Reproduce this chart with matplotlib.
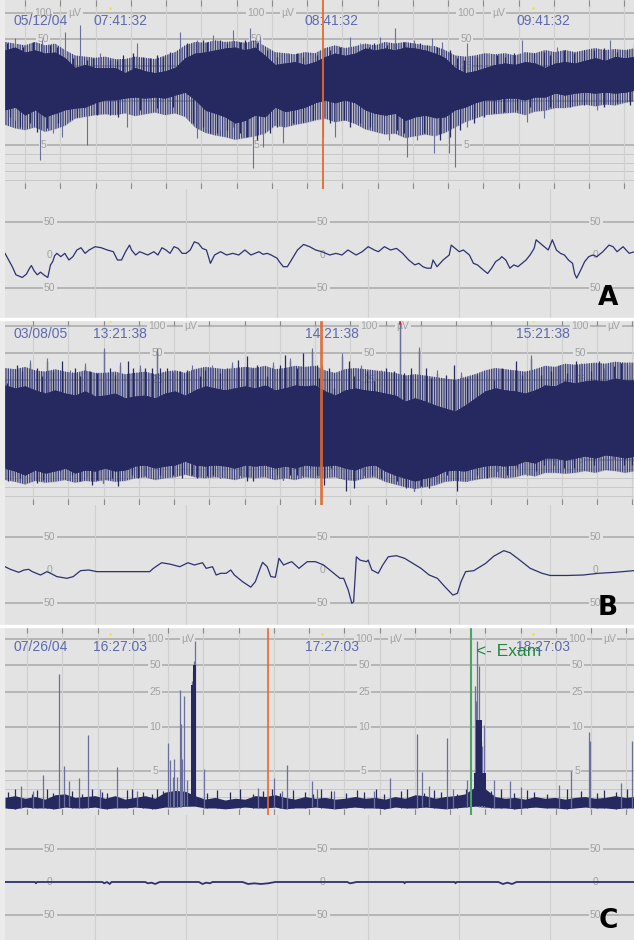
"""
Three amplitude-integrated EEG panels (A, B, C), each with the compressed
aEEG trend on top and a short raw EEG trace below.
"""
import matplotlib
matplotlib.use("Agg")
import matplotlib.pyplot as plt
import numpy as np

plt.rcParams['font.family'] = ['Liberation Sans', 'DejaVu Sans']
plt.rcParams['hatch.linewidth'] = 0.9

# ---------------- data (aEEG time in minutes from left edge, values in uV) ----
env_t = np.linspace(0, 178.7, 64)  # envelope sampling times

a_top = [38, 41, 36, 38, 35, 36, 31, 24, 26, 24, 24, 24, 21, 24, 22, 21, 22, 24, 31, 35, 36, 38, 40, 41, 38, 41,
         33, 26, 27, 28, 26, 28, 32, 35, 33, 35, 40, 38, 40, 38, 41, 40, 38, 35, 31, 24, 21, 22, 24, 26, 27, 26,
         28, 27, 24, 27, 28, 27, 29, 31, 29, 32, 31, 32]
a_bot = [9.0, 9.3, 8.4, 9.0, 8.2, 8.6, 9.0, 9.2, 9.3, 9.8, 10.3, 10.3, 10.8, 11.1, 10.8, 11.1, 10.8, 11.7, 12.6,
         10.3, 9.0, 8.6, 8.2, 7.5, 7.8, 8.4, 8.2, 9.3, 8.8, 9.0, 9.3, 9.8, 10.3, 9.8, 10.3, 9.8, 9.0, 8.6, 8.4,
         8.6, 7.8, 8.2, 8.4, 8.1, 8.2, 9.0, 9.3, 9.8, 10.3, 10.3, 10.8, 10.8, 10.3, 11.1, 11.1, 12.3, 11.7, 12.3,
         12.6, 12.3, 12.6, 12.3, 12.6, 13.3]
# typical spike-tip level around the dense core (ragged fringe)
a_ftop = [47, 45, 43, 47, 43, 45, 38, 33, 32, 31, 32, 30, 30, 32, 31, 30, 33, 36, 43, 47, 46, 49, 47, 48, 46, 49,
          42, 36, 35, 34, 36, 35, 40, 43, 40, 42, 45, 43, 47, 45, 47, 45, 43, 42, 38, 33, 32, 33, 35, 34, 35, 33,
          36, 35, 38, 36, 38, 36, 38, 40, 38, 39, 38, 40]
a_fbot = [7.3, 6.9, 6.7, 7.0, 6.5, 6.8, 7.2, 8.0, 8.2, 8.4, 8.5, 8.4, 8.6, 8.3, 8.5, 8.7, 8.4, 8.6, 8.2, 7.0, 6.4,
          6.1, 5.9, 5.6, 5.8, 6.0, 6.3, 7.2, 7.0, 7.3, 7.5, 7.8, 8.0, 7.6, 7.8, 7.4, 6.8, 6.5, 6.2, 6.3, 5.8, 6.0,
          6.2, 6.0, 6.4, 7.0, 7.6, 8.0, 8.4, 8.5, 8.6, 8.7, 8.4, 8.8, 8.9, 9.2, 9.2, 9.4, 9.6, 9.4, 9.6, 9.5, 9.8,
          10.0]
# tall (light) spikes
a_up_t = [2.8, 10.5, 17.0, 21.3, 27.0, 37.4, 49.6, 54.5, 59.0, 64.7, 69.5, 72.3, 80.3, 86.5, 97.9, 100.7, 106.4,
          110.6, 116.0, 121.1, 124.0, 131.1, 137.3, 146.7, 156.6, 171.6]
a_up_v = [52, 49, 61, 73, 35, 46, 61, 49, 56, 64, 68, 53, 35, 33, 53, 46, 53, 68, 49, 52, 47, 46, 35, 49, 41, 49]
# short spikes giving the band its ragged edge
a_up2_t = [0.6, 5.1, 7.9, 12.8, 14.8, 19.3, 23.3, 25.0, 29.8, 31.8, 33.5, 36.3, 39.1, 41.1, 43.1, 44.8, 46.8,
           51.6, 56.2, 57.3, 61.0, 63.0, 66.7, 68.1, 71.5, 74.3, 77.2, 82.8, 84.5, 88.5, 92.2, 95.0, 103.3, 104.7,
           108.4, 113.2, 114.9, 117.7, 119.7, 122.6, 126.2, 128.2, 130.2, 133.9, 139.6, 141.8, 144.4, 150.1,
           152.9, 154.6, 158.6, 161.4, 164.3, 167.1, 169.9, 173.6, 176.5, 178.5]
a_up2_v = [45.6, 41, 46.8, 43.3, 41, 30.8, 29.2, 30.8, 29.2, 29.2, 33.3, 35, 31.6, 30.8, 33.3, 31.6, 36, 45.6,
           49.4, 46.8, 49.4, 45.6, 46.8, 49.4, 45.6, 38, 31.6, 35, 31.6, 33.3, 38, 41, 41, 45.6, 43.3, 46.8, 45.6,
           45.6, 43.3, 41, 38, 30.8, 29.2, 31.6, 33.3, 31.6, 35, 35, 36, 33.3, 38, 35, 38, 38, 40, 36, 38, 45.6]
a_dn_t = [2.8, 9.9, 13.6, 16.2, 23.3, 34.6, 54.5, 61.0, 64.7, 70.4, 73.2, 78.9, 90.2, 93.6, 106.1, 108.9, 114.0,
          116.9, 121.7, 126.0, 127.7, 131.1, 148.1, 152.9, 167.9]
a_dn_v = [7.8, 3.3, 6.4, 5.9, 5.0, 7.0, 5.8, 6.7, 7.0, 2.4, 4.8, 5.2, 5.9, 5.9, 6.5, 5.6, 3.6, 5.6, 4.1, 4.1, 2.5,
          7.0, 7.6, 8.1, 9.0]
a_dn2_t = [1.4, 4.3, 7.1, 9.1, 11.9, 15.0, 18.4, 20.4, 26.1, 29.8, 32.1, 38.3, 43.1, 47.7, 53.3, 56.2, 58.2, 60.1,
           63.0, 66.7, 68.7, 71.5, 75.2, 77.2, 81.7, 84.5, 87.4, 92.2, 96.2, 97.9, 100.7, 103.6, 111.2, 113.2,
           118.9, 123.4, 126.2, 129.1, 133.1, 135.9, 138.7, 141.6, 145.3, 148.9, 154.6, 160.3, 164.3, 169.9,
           173.6, 177.3]
a_dn2_v = [8.2, 7.0, 7.5, 6.5, 6.9, 7.5, 7.8, 8.2, 8.4, 8.4, 8.2, 9.0, 9.2, 9.3, 7.5, 7.0, 6.4, 6.4, 6.7, 6.4, 5.9,
           5.6, 6.4, 7.0, 7.5, 7.6, 7.8, 7.5, 7.8, 7.0, 7.5, 7.0, 6.7, 6.4, 6.4, 5.6, 5.9, 6.7, 7.5, 8.2, 8.6, 8.7,
           9.0, 9.3, 9.3, 9.3, 9.5, 9.3, 9.8, 9.5]

b_top = [21.9, 20.3, 21.4, 19.3, 17.8, 19.3, 17.8, 16.9, 18.8, 16.5, 16.9, 17.8, 15.7, 16.5, 16.9, 15.7, 17.8, 18.8,
         16.9, 19.3, 21.4, 20.3, 19.3, 20.3, 21.4, 20.3, 21.9, 19.3, 20.3, 21.9, 21.4, 21.9, 18.8, 16.9, 19.3, 20.3,
         19.3, 18.8, 17.8, 16.9, 14.5, 15.7, 14.5, 13.1, 12.1, 11.2, 13.1, 15.7, 18.8, 20.3, 19.3, 18.8, 17.8, 19.3,
         21.9, 21.4, 24.3, 23.1, 24.3, 24.9, 24.3, 26.2, 24.9, 24.9]
b_bot = [4.13, 3.80, 3.35, 3.91, 3.58, 3.80, 4.13, 3.58, 3.91, 3.80, 4.13, 3.80, 3.91, 4.36, 4.47, 4.13, 4.36, 4.47,
         4.92, 4.47, 4.36, 4.47, 4.36, 4.13, 4.47, 4.36, 4.47, 4.13, 4.36, 4.13, 4.47, 4.36, 4.36, 4.47, 4.13, 3.91,
         4.36, 4.47, 3.80, 3.35, 3.02, 2.68, 3.02, 3.24, 3.80, 3.91, 3.80, 4.13, 4.36, 4.47, 4.36, 4.47, 4.92, 4.69,
         5.25, 5.25, 5.03, 5.25, 5.47, 5.25, 5.59, 5.47, 5.25, 5.47]
b_ftop = [34, 33, 35, 32, 31, 33, 31, 30, 32, 30, 30, 31, 29, 30, 31, 29, 31, 32, 30, 33, 35, 34, 33, 34, 35, 34, 36,
          33, 34, 36, 35, 36, 32, 30, 33, 34, 33, 32, 31, 30, 28, 29, 28, 27, 26, 25, 27, 29, 32, 34, 33, 32, 31,
          33, 36, 35, 38, 37, 38, 39, 38, 40, 39, 39]
b_fbot = [2.8, 2.6, 2.3, 2.7, 2.5, 2.6, 2.8, 2.5, 2.7, 2.6, 2.8, 2.6, 2.7, 3.0, 3.1, 2.8, 3.0, 3.1, 3.4, 3.1, 3.0,
          3.1, 3.0, 2.8, 3.1, 3.0, 3.1, 2.8, 3.0, 2.8, 3.1, 3.0, 3.0, 3.1, 2.8, 2.7, 3.0, 3.1, 2.6, 2.3, 2.0, 1.8,
          2.0, 2.2, 2.6, 2.7, 2.6, 2.8, 3.0, 3.1, 3.0, 3.1, 3.4, 3.2, 3.6, 3.6, 3.5, 3.6, 3.8, 3.6, 3.9, 3.8, 3.6,
          3.8]
b_up_t = [0.6, 2.0, 3.4, 4.8, 7.1, 9.1, 10.5, 11.9, 13.6, 16.2, 18.4, 19.9, 21.3, 22.7, 24.1, 26.1, 28.1, 29.8,
          31.2, 32.6, 34.9, 36.3, 38.3, 39.7, 41.7, 43.1, 44.0, 46.0, 47.7, 49.6, 51.6, 53.1, 55.3, 56.7, 58.7,
          61.0, 63.0, 64.4, 66.1, 68.7, 70.1, 71.5, 74.3, 76.0, 78.0, 79.4, 80.9, 82.8, 84.5, 87.1, 88.5, 89.1,
          89.9, 91.9, 93.3, 95.6, 97.6, 99.0, 101.0, 102.7, 104.7, 106.7, 108.1, 110.4, 112.1, 113.2, 115.2,
          117.4, 119.4, 120.9, 122.6, 125.1, 127.4, 129.4, 131.1, 133.9, 136.7, 138.7, 141.0, 143.6, 145.0,
          146.7, 149.2, 152.1, 154.9, 157.2, 159.4, 162.0, 163.4, 166.2, 168.5, 169.9, 172.8, 174.8, 177.0]
b_up_v = [23.1, 24.1, 37, 31.2, 38.6, 34, 27.4, 40.3, 31.2, 40.3, 29.9, 34, 27.4, 35.5, 31.2, 29.9, 52, 34, 28.6,
          37, 40.3, 34, 34, 34, 34, 52, 34, 34, 28.6, 31.2, 32.5, 34, 27.4, 32.5, 34, 29.9, 34, 37, 42, 45.9, 31.2,
          37, 27.4, 37, 37, 47.8, 40.3, 34, 50, 52, 37, 26.2, 34, 34, 20.3, 45.9, 40.3, 27.4, 34, 31.2, 24.1, 29.9,
          34, 31.2, 110, 29.9, 34, 54.4, 34, 26.2, 29.9, 28.6, 37, 28.6, 26.2, 28.6, 26.2, 25.1, 34, 29.9, 40.3,
          28.6, 43.9, 28.6, 31.2, 34, 29.9, 40.3, 35.5, 31.2, 40.3, 31.2, 35.5, 38.6, 37]
b_dn_t = [0.9, 2.3, 4.3, 5.7, 7.7, 9.1, 10.8, 12.2, 13.6, 15.6, 17.6, 19.0, 21.3, 23.3, 24.7, 26.1, 27.8, 30.4,
          32.1, 34.6, 36.0, 37.7, 39.7, 42.0, 44.0, 46.0, 47.7, 50.2, 51.6, 53.1, 54.5, 55.3, 57.3, 59.0, 61.0,
          63.0, 64.7, 66.7, 68.7, 70.4, 72.9, 74.6, 77.2, 78.9, 80.9, 82.8, 84.3, 86.5, 88.5, 89.1, 90.5, 92.5,
          94.8, 96.7, 99.0, 101.8, 104.1, 106.7, 108.9, 111.2, 113.8, 116.0, 118.0, 120.3, 122.6, 125.4, 128.2,
          131.1, 133.9, 136.7, 139.6, 142.4, 145.3, 148.1, 150.6, 152.9, 155.8, 158.6, 161.4, 164.3, 167.1,
          169.9, 172.8, 175.6, 177.9]
b_dn_v = [2.64, 3.39, 3.02, 3.39, 2.83, 2.46, 2.83, 5.25, 5.44, 3.76, 2.83, 3.39, 2.64, 3.2, 2.27, 2.83, 2.46,
          3.02, 2.08, 3.02, 3.39, 3.02, 3.39, 4.5, 3.39, 5.25, 3.39, 3.02, 6.0, 3.39, 3.02, 4.5, 3.2, 3.39, 3.02,
          4.32, 4.13, 3.39, 2.64, 2.64, 3.39, 5.06, 3.39, 2.83, 3.39, 3.39, 3.39, 4.13, 3.39, 3.39, 2.27, 4.13,
          3.02, 1.53, 1.9, 3.39, 3.39, 3.02, 3.76, 2.64, 1.9, 1.53, 2.08, 1.9, 2.64, 3.39, 1.53, 2.64, 3.39, 3.02,
          3.76, 3.39, 4.13, 3.39, 3.76, 4.5, 4.5, 4.13, 4.13, 5.25, 4.5, 5.62, 5.25, 4.5, 4.5]

c_top = [2.0, 2.2, 1.9, 2.1, 1.8, 2.3, 2.4, 2.0, 2.1, 2.2, 1.9, 2.2, 1.8, 2.0, 2.2, 1.9, 2.6, 2.8, 2.7, 2.2, 1.8,
         2.0, 1.7, 1.9, 1.8, 2.2, 2.1, 2.3, 2.0, 1.8, 2.1, 1.9, 2.0, 1.8, 1.9, 2.1, 1.9, 2.0, 1.8, 2.1, 1.9, 2.3,
         2.2, 1.9, 2.1, 2.2, 2.4, 3.2, 3.0, 2.1, 1.9, 2.0, 1.8, 2.1, 1.9, 2.0, 1.8, 2.0, 2.1, 1.9, 2.0, 2.2, 2.0,
         2.1]
c_bot = [0.8, 0.7, 0.9, 0.8, 0.8, 0.7, 0.9, 0.8, 0.8, 0.9, 0.7, 0.8, 0.8, 0.9, 0.8, 0.7, 0.9, 0.9, 1.0, 1.0, 0.8,
         0.8, 0.7, 0.8, 0.9, 0.8, 0.8, 0.9, 0.7, 0.8, 0.8, 0.9, 0.8, 0.7, 0.8, 0.9, 0.8, 0.8, 0.7, 0.9, 0.8, 0.8,
         0.9, 0.8, 0.7, 0.8, 0.9, 1.0, 0.9, 0.8, 0.8, 0.7, 0.8, 0.9, 0.8, 0.8, 0.7, 0.8, 0.9, 0.8, 0.8, 0.7, 0.8,
         0.8]
c_up_t = [4.5, 7.9, 10.8, 15.3, 16.7, 18.2, 21.0, 23.5, 27.0, 31.8, 37.4, 46.2, 46.8, 47.7, 47.9, 48.8, 49.6,
          49.9, 50.2, 50.8, 51.6, 53.1, 53.3, 53.6, 53.9, 56.5, 71.8, 76.3, 78.6, 80.0, 87.1, 88.5, 93.3, 104.7,
          109.2, 116.9, 118.3, 120.3, 125.4, 127.1, 131.1, 133.3, 133.6, 133.9, 134.5, 135.0, 135.3, 135.9,
          138.7, 143.3, 146.4, 157.2, 160.6, 165.7, 166.0, 174.8, 177.9]
c_up_v = [3.3, 2.7, 4.5, 40, 5.6, 3.9, 4.2, 9.1, 3.0, 5.45, 2.7, 8.2, 6.25, 4.3, 6.4, 4.3, 26.3, 10.7, 6.4, 22.4,
          4.0, 33, 42, 56, 95, 5.2, 3.1, 4.2, 2.7, 5.7, 3.9, 3.0, 2.7, 2.7, 4.2, 9.2, 4.9, 3.3, 8.75, 3.0, 4.0, 29,
          20, 95, 49, 8.4, 7.8, 10.5, 4.0, 3.9, 3.2, 3.4, 5.0, 9.4, 8.4, 3.6, 8.4]
c_small_t = [0.9, 2.8, 7.7, 9.1, 11.9, 13.6, 19.0, 21.8, 24.7, 27.5, 28.9, 34.6, 36.0, 39.2, 41.7, 43.1, 44.8,
             57.3, 60.1, 63.8, 66.7, 70.4, 73.2, 75.7, 78.0, 81.7, 85.1, 87.4, 89.6, 92.5, 96.7, 99.9, 101.8,
             105.3, 107.5, 112.3, 114.0, 118.9, 121.7, 123.7, 128.2, 130.8, 137.9, 140.7, 144.4, 148.1, 150.1,
             153.8, 159.4, 163.4, 167.9, 169.9, 173.3, 176.5]
c_small_v = [2.6, 2.9, 2.4, 2.8, 3.0, 2.5, 2.7, 2.4, 2.9, 2.6, 2.5, 2.8, 3.0, 2.6, 2.4, 2.9, 2.7, 2.5, 2.8, 2.6,
             3.0, 2.4, 2.7, 2.9, 2.5, 2.8, 2.6, 2.4, 2.9, 2.7, 2.5, 2.8, 2.6, 3.0, 2.4, 2.7, 2.9, 2.5, 2.8, 2.6,
             2.4, 2.9, 2.7, 3.0, 2.5, 2.8, 2.6, 2.4, 2.9, 2.7, 2.5, 2.8, 2.6, 3.0]
# dense bursts in C drawn as solid blocks: start, end, height
c_blk_t0 = [52.8, 53.4, 133.0, 133.7]
c_blk_t1 = [53.4, 54.1, 136.3, 135.2]
c_blk_v = [30, 50, 4.8, 12]

# hour marks / labels / markers
hour_t = [29.8, 89.8, 149.8]
a_date, a_hours = '05/12/04', ['07:41:32', '08:41:32', '09:41:32']
b_date, b_hours = '03/08/05', ['13:21:38', '14:21:38', '15:21:38']
c_date, c_hours = '07/26/04', ['16:27:03', '17:27:03', '18:27:03']
scale_vals = [100, 50, 25, 10, 5]

# ---------------- raw EEG traces (time in s, uV) ------------------------------
ra_t = [-0.99, -0.95, -0.91, -0.87, -0.80, -0.755, -0.72, -0.70, -0.67, -0.635, -0.60, -0.555, -0.52, -0.49,
        -0.466, -0.444, -0.42, -0.377, -0.333, -0.288, -0.244, -0.20, -0.155, -0.11, -0.066, 0.0, 0.067, 0.134,
        0.20, 0.245, 0.29, 0.334, 0.378, 0.40, 0.445, 0.49, 0.534, 0.578, 0.645, 0.69, 0.734, 0.778, 0.823,
        0.867, 0.912, 0.956, 1.0, 1.045, 1.09, 1.134, 1.178, 1.223, 1.267, 1.312, 1.378, 1.445, 1.512, 1.578,
        1.645, 1.712, 1.756, 1.80, 1.845, 1.89, 1.934, 2.0, 2.023, 2.067, 2.112, 2.156, 2.223, 2.29, 2.356,
        2.423, 2.49, 2.578, 2.645, 2.712, 2.778, 2.867, 2.934, 3.0, 3.067, 3.112, 3.178, 3.245, 3.312, 3.378,
        3.445, 3.512, 3.556, 3.60, 3.645, 3.69, 3.712, 3.756, 3.823, 3.89, 3.912, 3.956, 4.0, 4.045, 4.112,
        4.156, 4.2, 4.267, 4.312, 4.356, 4.40, 4.445, 4.467, 4.512, 4.556, 4.60, 4.645, 4.69, 4.734, 4.778,
        4.823, 4.845, 4.89, 4.934, 4.978, 5.023, 5.067, 5.112, 5.156, 5.20, 5.245, 5.267, 5.29, 5.334, 5.378,
        5.423, 5.467, 5.512, 5.578, 5.645, 5.69, 5.734, 5.80, 5.867, 5.925]
ra_v = [2.5, -7.6, -17.7, -30, -34, -29, -20, -16, -24, -30, -26, -31, -34, -15, -10, -1, 2.5, -2.5, 2.5, -7.6,
        -2.5, 7.6, 11, 2.5, 7.6, 12.6, 11, 7.6, 5, -7.6, -7.6, 5, 15, 7.6, 0, 5, 2.5, 0, 5, 0, 11, 7.6, 2.5, 12.6,
        10, 2.5, 2.5, 7.6, 20, 17.7, 10, 7.6, -12.6, 0, 5, 0, 2.5, 0, 7.6, 0, 2.5, 5, 1, 2.5, 0, -5, -10, -17.7,
        -17.7, -7.6, 7.6, 16, 12.6, 7.6, 5, 0, 2.5, 0, 7.6, 0, 5, 12.6, 7.6, 5, 12.6, 7.6, 10, 2.5, -7.6, -15,
        -12.6, -17.7, -20, -20, -7.6, -17.7, -7.6, 0, 15, 10, 5, 7.6, 0, -12.6, -15, -23, -28, -20, -10, -6, -2.5,
        -7.6, -20, -15, -17.7, -12.6, -7.6, 0, 10, 23, 17.7, 12.6, 7.6, 23, 7.6, 2.5, 0, -7.6, -12.6, -28, -35,
        -23, -10, -2.5, 0, -2.5, 5, 15, 12.6, 5, 12.6, 2.5, 5]

rb_t = [-0.99, -0.93, -0.84, -0.78, -0.73, -0.69, -0.60, -0.53, -0.49, -0.42, -0.31, -0.24, -0.16, -0.07, 0.02,
        0.29, 0.60, 0.64, 0.73, 0.82, 0.93, 1.02, 1.09, 1.18, 1.22, 1.29, 1.33, 1.38, 1.44, 1.49, 1.53, 1.62,
        1.71, 1.76, 1.82, 1.84, 1.89, 1.93, 1.98, 2.02, 2.07, 2.11, 2.16, 2.24, 2.33, 2.42, 2.51, 2.60, 2.69,
        2.73, 2.78, 2.82, 2.84, 2.87, 2.91, 2.98, 3.00, 3.04, 3.11, 3.16, 3.22, 3.31, 3.40, 3.58, 3.67, 3.76,
        3.84, 3.93, 3.98, 4.02, 4.07, 4.16, 4.29, 4.38, 4.49, 4.56, 4.64, 4.78, 4.91, 5.00, 5.18, 5.36, 5.53,
        5.71, 5.92]
rb_v = [5, 1, -3.5, 0, 1, -2.5, -7.6, -2.5, -5, -10, -12.6, -10, -1, 0, -2.5, -2.5, -2.5, 2.5, 11, 9, 5, 11, 7.6,
        11, 2.5, 5, -7.6, -5, -5, 0, -7.6, -17.7, -26, -17.7, 5, 11.6, 5, -10, -11, 17.7, 7.6, 10, 12.6, 2.5,
        12.6, 12.6, 7.6, -2.5, -12.6, -12.6, -30, -50.5, -48, 20, 15, 12.6, 15, 0, -5, 7.6, 20, 21.7, 17.7, 2.5,
        -7.6, -12.6, -25, -38, -35.4, -17.7, -2.5, -1, 10, 21, 29.3, 26, 17.7, 2.5, -5, -8.3, -8.3, -7.6, -5,
        -3.5, -1]

rc_t = [-0.99, -0.66, -0.65, -0.64, 0.08, 0.10, 0.13, 0.16, 0.18, 0.55, 0.58, 0.62, 0.66, 0.71, 1.14, 1.18, 1.22,
        1.26, 1.29, 1.62, 1.68, 1.75, 1.82, 1.90, 1.98, 2.77, 2.80, 2.84, 2.87, 3.39, 3.40, 3.41, 3.95, 3.96, 3.97,
        4.43, 4.48, 4.53, 4.58, 4.63, 5.92]
rc_v = [0, 0, -2, 0, 0, -2, 0, -3, 0, 0, -2, -1, -3, 0, 0, -3, -1, -2, 0, 0, -3, -2, -3, -2, 0, 0, -2, -1, 0, 0,
        -2, 0, 0, -2, 0, 0, -3, -1, -3, 0, 0]
raw_label_t = [-0.5, 2.5, 5.5]

# ---------------- styling ----------------------------------------------------
W, H = 634, 940
BG = '#e3e3e3'
NAVY = '#25295f'
LIGHT = '#6b6f9e'
HATCH = '#3c417a'
HGRID = '#a9a9a9'
MINOR = '#c8c8c8'
VGRID = '#d0d0d0'
LBL = '#a2a2a2'
BLUE = '#5d6aae'


def fwd(v):
    v = np.asarray(v, dtype=float)
    return np.where(v <= 10, v, 10 + 10 * np.log10(np.maximum(v, 10) / 10))


def inv(u):
    u = np.asarray(u, dtype=float)
    return np.where(u <= 10, u, 10 * 10 ** ((u - 10) / 10))


fig = plt.figure(figsize=(W / 100, H / 100), dpi=100, facecolor='#ececec')


def add_ax(top, bottom):
    ax = fig.add_axes([5 / W, 1 - bottom / H, (W - 5) / W, (bottom - top) / H])
    ax.set_facecolor(BG)
    for s in ax.spines.values():
        s.set_visible(False)
    return ax


def aeeg_axes(top, zero, px_per_unit, grid0, label_t, uv_dx, date, hours):
    ax = add_ax(top, zero)
    ax.set_yscale('function', functions=(fwd, inv))
    ax.set_xlim(0, 178.4)
    ax.set_ylim(0, float(inv((zero - top) / px_per_unit)))
    ax.set_xticks(np.arange(grid0, 178.4, 10))
    ax.set_yticks([])
    ax.tick_params(axis='x', direction='in', length=4, width=0.8, color='#8a8a8a',
                   top=True, bottom=True, labelbottom=False)
    ax.grid(axis='x', color=VGRID, lw=0.8, zorder=0)
    for v in scale_vals:
        ax.axhline(v, color=HGRID, lw=1.1, zorder=1)
    for v in [1, 2, 3, 4]:
        ax.axhline(v, color=MINOR, lw=0.7, zorder=1)
    box = dict(boxstyle='square,pad=0.12', fc=BG, ec='none')
    for x in label_t:
        for v in scale_vals:
            ax.text(x, v, str(v), ha='center', va='center', color=LBL, fontsize=7.5, bbox=box, zorder=1.5)
        ax.text(x + uv_dx, 100, 'µV', ha='center', va='center', color=LBL, fontsize=7.5, bbox=box, zorder=1.5)
    ax.text(2.3, 81, date, ha='left', va='center', color=BLUE, fontsize=10, zorder=6)
    for x, h in zip(hour_t, hours):
        ax.text(x - 4.8, 81, h, ha='left', va='center', color=BLUE, fontsize=10, zorder=6)
    ax.plot(hour_t, [114] * 3, 's', ms=1.6, color='#f2e200', mec='none', zorder=6)
    return ax


def raw_axes(top, bottom, zero):
    ax = add_ax(top, bottom)
    k = 50 / 33  # uV per pixel
    ax.set_xlim(-0.99, 5.92)
    ax.set_ylim(-(bottom - zero) * k, (zero - top) * k)
    ax.set_xticks(range(6))
    ax.set_yticks([])
    ax.tick_params(axis='x', length=0, labelbottom=False)
    ax.grid(axis='x', color=VGRID, lw=0.8, zorder=0)
    box = dict(boxstyle='square,pad=0.12', fc=BG, ec='none')
    for v in [50, -50]:
        ax.axhline(v, color=HGRID, lw=1.1, zorder=1)
    for x in raw_label_t:
        for v in [50, 0, -50]:
            ax.text(x, v, str(abs(v)), ha='center', va='center', color=LBL, fontsize=7.5,
                    bbox=box if v else None, zorder=1.5)
    return ax


def band(ax, top, bot, up_t, up_v, dn_t, dn_v, color=LIGHT, lw=0.8):
    ax.fill_between(env_t, bot, top, color=NAVY, lw=0, zorder=4)
    ax.vlines(up_t, np.interp(up_t, env_t, bot), up_v, colors=color, lw=lw, zorder=3)
    ax.vlines(dn_t, dn_v, np.interp(dn_t, env_t, top), colors=color, lw=lw, zorder=3)


def fringe(ax, ftop, fbot, alpha):
    # faint tone plus a dense vertical hatch standing in for the unresolved trace
    ax.fill_between(env_t, fbot, ftop, color=NAVY, alpha=alpha, lw=0, zorder=2.4)
    ax.fill_between(env_t, fbot, ftop, facecolor='none', edgecolor=HATCH, hatch='|' * 7, lw=0, zorder=2.5)


# ---------------- panel A ----------------------------------------------------
ax = aeeg_axes(0, 189, 8.8, 5.67, [10.8, 71.2, 130.8], 9.1, a_date, a_hours)
fringe(ax, a_ftop, a_fbot, 0.15)
band(ax, a_top, a_bot, a_up2_t, a_up2_v, a_dn2_t, a_dn2_v, color=NAVY, lw=0.9)
band(ax, a_top, a_bot, a_up_t, a_up_v, a_dn_t, a_dn_v)
ax.axvline(90.2, color='#e8692c', lw=1.3, zorder=7)

ax = raw_axes(189, 318, 255)
ax.plot(ra_t, ra_v, color='#2c3170', lw=0.9, zorder=4)
fig.text(608 / W, 1 - 298 / H, 'A', ha='center', va='center', fontsize=19, fontweight='bold',
         family=['Liberation Sans Narrow', 'DejaVu Sans'])

# ---------------- panel B ----------------------------------------------------
ax = aeeg_axes(320, 505, 8.95, 7.94, [43.1, 103.3, 163.1], 9.6, b_date, b_hours)
fringe(ax, b_ftop, b_fbot, 0.18)
band(ax, b_top, b_bot, b_up_t, b_up_v, b_dn_t, b_dn_v, color=NAVY, lw=0.9)
band(ax, b_top, b_bot, b_up_t[1::3], np.array(b_up_v[1::3]) * 1.08, b_dn_t[1::3], b_dn_v[1::3])
ax.plot([112.1, 112.1], [104, 116], color='#d02020', lw=1.2, zorder=7)
ax.axvline(89.6, color='#dd6a35', lw=2.0, alpha=0.9, zorder=7)

ax = raw_axes(505, 625, 570)
ax.plot(rb_t, rb_v, color='#2c3170', lw=0.9, zorder=4)
fig.text(608 / W, 1 - 608 / H, 'B', ha='center', va='center', fontsize=19, fontweight='bold',
         family=['Liberation Sans Narrow', 'DejaVu Sans'])

# ---------------- panel C ----------------------------------------------------
ax = aeeg_axes(627, 815, 8.8, 6.24, [42.6, 101.8, 162.3], 9.1, c_date, c_hours)
ax.fill_between(env_t, c_bot, c_top, color=NAVY, lw=0, zorder=4)
ax.vlines(c_small_t, np.interp(c_small_t, env_t, c_bot), c_small_v, colors=NAVY, lw=0.9, zorder=4)
ax.vlines(c_up_t, np.interp(c_up_t, env_t, c_bot), c_up_v, colors=LIGHT, lw=0.9, zorder=5)
for t0, t1, v in zip(c_blk_t0, c_blk_t1, c_blk_v):
    ax.fill_between([t0, t1], [1, 1], [v, v], color=NAVY, lw=0, zorder=5)
ax.axvline(74.6, color='#e8692c', lw=1.2, zorder=7)
ax.axvline(132.2, color='#4fa265', lw=1.5, zorder=7)
ax.text(133.5, 73, '<- Exam', ha='left', va='center', color='#1f8a3c', fontsize=12.5, zorder=8)

ax = raw_axes(815, 940, 882)
ax.plot(rc_t, rc_v, color='#2c3170', lw=1.3, zorder=4)
fig.text(608 / W, 1 - 921 / H, 'C', ha='center', va='center', fontsize=19, fontweight='bold',
         family=['Liberation Sans Narrow', 'DejaVu Sans'])

# white separators between panels
for y in (318, 625):
    fig.add_artist(plt.Rectangle((0, 1 - (y + 2) / H), 1, 2 / H, transform=fig.transFigure,
                                 color='white', zorder=10))

fig.savefig('out.png', dpi=100, facecolor=fig.get_facecolor())
